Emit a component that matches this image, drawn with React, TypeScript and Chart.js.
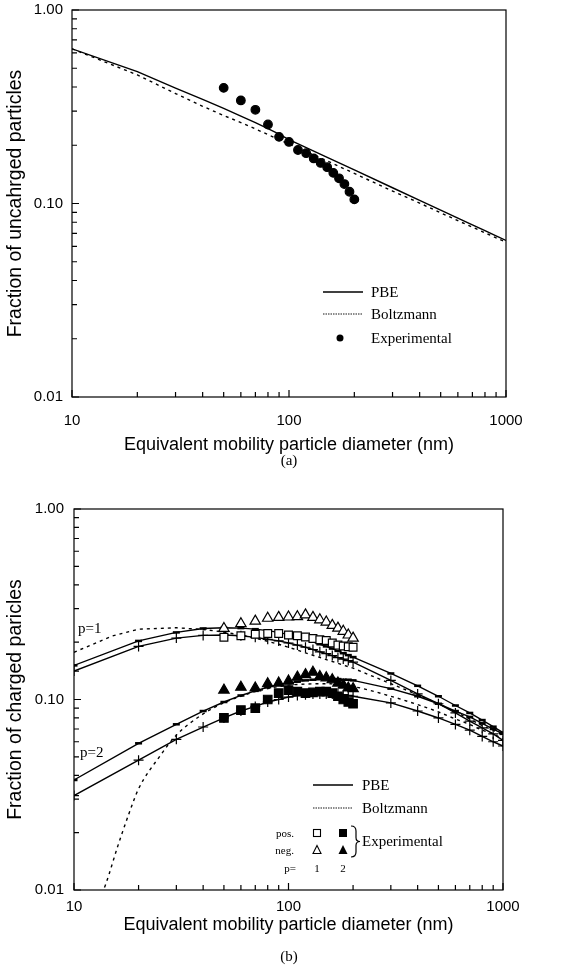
import React, { useEffect, useRef } from 'react';
import { Chart, registerables } from 'chart.js';

Chart.register(...registerables);

const SANS = '"Liberation Sans", Arial, sans-serif';
const SERIF = '"Liberation Serif", "Times New Roman", serif';

// ---------- axes ----------
const xTickValues = [10, 20, 30, 40, 50, 60, 70, 80, 90, 100, 200, 300, 400, 500, 600, 700, 800, 900, 1000];
const xMajor = [10, 100, 1000];
const xMajorLabels = ['10', '100', '1000'];
const yTickValues = [0.01, 0.02, 0.03, 0.04, 0.05, 0.06, 0.07, 0.08, 0.09, 0.1, 0.2, 0.3, 0.4, 0.5, 0.6, 0.7, 0.8, 0.9, 1];
const yMajor = [0.01, 0.1, 1];
const yMajorLabels = ['0.01', '0.10', '1.00'];

// ---------- chart (a): uncharged fraction ----------
const topLineDiam = [10, 20, 30, 40, 50, 60, 70, 80, 90, 100, 150, 200, 300, 400, 500, 600, 700, 800, 900, 1000];
const topPbe = [0.63, 0.48, 0.395, 0.345, 0.31, 0.283, 0.262, 0.244, 0.228, 0.214, 0.173, 0.149, 0.1206, 0.1039, 0.0925, 0.0841, 0.0776, 0.0724, 0.068, 0.0644];
const topBoltzmann = [0.63, 0.462, 0.37, 0.318, 0.285, 0.262, 0.243, 0.227, 0.214, 0.203, 0.166, 0.143, 0.116, 0.1005, 0.0895, 0.0815, 0.0755, 0.0705, 0.0665, 0.063];
const expDiam = [50, 60, 70, 80, 90, 100, 110, 120, 130, 140, 150, 160, 170, 180, 190, 200];
const topExp = [0.396, 0.341, 0.305, 0.256, 0.221, 0.208, 0.189, 0.182, 0.171, 0.162, 0.154, 0.144, 0.135, 0.126, 0.115, 0.105];

// ---------- chart (b): charged fraction ----------
const pbeDiam = [10, 20, 30, 40, 50, 60, 70, 80, 90, 100, 110, 120, 130, 140, 150, 160, 170, 180, 190, 200, 300, 400, 500, 600, 700, 800, 900, 1000];
const pbeP1Upper = [0.151, 0.203, 0.225, 0.236, 0.238, 0.237, 0.234, 0.230, 0.225, 0.219, 0.213, 0.207, 0.201, 0.195, 0.190, 0.185, 0.180, 0.175, 0.171, 0.167, 0.137, 0.118, 0.104, 0.093, 0.085, 0.078, 0.072, 0.067];
const pbeP1Lower = [0.141, 0.190, 0.210, 0.217, 0.218, 0.216, 0.212, 0.207, 0.203, 0.198, 0.193, 0.188, 0.183, 0.178, 0.174, 0.170, 0.166, 0.163, 0.160, 0.157, 0.126, 0.107, 0.095, 0.085, 0.077, 0.071, 0.066, 0.061];
const pbeP2Upper = [0.0378, 0.0589, 0.0741, 0.087, 0.097, 0.105, 0.111, 0.116, 0.120, 0.122, 0.124, 0.126, 0.127, 0.128, 0.128, 0.128, 0.128, 0.127, 0.127, 0.126, 0.114, 0.104, 0.095, 0.087, 0.081, 0.075, 0.070, 0.066];
const pbeP2Lower = [0.0313, 0.048, 0.0618, 0.0717, 0.080, 0.087, 0.092, 0.097, 0.100, 0.103, 0.105, 0.106, 0.107, 0.107, 0.107, 0.107, 0.107, 0.106, 0.105, 0.104, 0.096, 0.087, 0.080, 0.074, 0.069, 0.064, 0.060, 0.057];

const boltzP1Diam = [10, 15, 20, 30, 40, 50, 60, 70, 80, 90, 100, 150, 200, 300, 400, 500, 600, 700, 800, 900, 1000];
const boltzP1 = [0.177, 0.215, 0.234, 0.238, 0.233, 0.226, 0.218, 0.210, 0.202, 0.195, 0.188, 0.162, 0.146, 0.121, 0.106, 0.095, 0.086, 0.079, 0.073, 0.069, 0.065];
const boltzP2Diam = [12, 13, 14, 16, 18, 20, 25, 30, 40, 50, 60, 70, 80, 90, 100, 150, 200, 300, 400, 500, 600, 700, 800, 900, 1000];
const boltzP2 = [0.007, 0.0088, 0.0106, 0.017, 0.025, 0.034, 0.050, 0.065, 0.084, 0.096, 0.104, 0.110, 0.114, 0.117, 0.119, 0.121, 0.117, 0.104, 0.094, 0.086, 0.079, 0.074, 0.069, 0.066, 0.062];

const expPosP1 = [0.212, 0.216, 0.220, 0.222, 0.222, 0.218, 0.216, 0.213, 0.209, 0.206, 0.204, 0.198, 0.193, 0.191, 0.189, 0.188];
const expNegP1 = [0.236, 0.250, 0.258, 0.267, 0.270, 0.271, 0.272, 0.278, 0.270, 0.262, 0.255, 0.245, 0.237, 0.228, 0.218, 0.210];
const expPosP2 = [0.080, 0.088, 0.090, 0.100, 0.108, 0.112, 0.110, 0.108, 0.109, 0.110, 0.110, 0.108, 0.104, 0.100, 0.097, 0.095];
const expNegP2 = [0.112, 0.116, 0.115, 0.121, 0.122, 0.125, 0.131, 0.135, 0.139, 0.132, 0.130, 0.127, 0.122, 0.119, 0.115, 0.114];

// ---------- helpers ----------
const pts = (xs: number[], ys: number[]) => xs.map((x, i) => ({ x, y: ys[i] }));
const sameLog = (a: number, b: number) => Math.abs(Math.log10(a) - Math.log10(b)) < 1e-6;
const majorLabel = (v: number, majors: number[], labels: string[]) => {
  const i = majors.findIndex((m) => sameLog(m, v));
  return i >= 0 ? labels[i] : '';
};

const frameTicks = {
  id: 'frameTicks',
  afterDatasetsDraw(chart: any) {
    const { ctx, chartArea: a, scales } = chart;
    ctx.save();
    ctx.strokeStyle = '#000';
    ctx.lineWidth = 1.2;
    ctx.strokeRect(a.left, a.top, a.right - a.left, a.bottom - a.top);
    ctx.beginPath();
    scales.x.ticks.forEach((t: any) => {
      const px = scales.x.getPixelForValue(t.value);
      const len = xMajor.some((m) => sameLog(m, t.value)) ? 7 : 5;
      ctx.moveTo(px, a.bottom);
      ctx.lineTo(px, a.bottom - len);
    });
    scales.y.ticks.forEach((t: any) => {
      const py = scales.y.getPixelForValue(t.value);
      const len = yMajor.some((m) => sameLog(m, t.value)) ? 7 : 5;
      ctx.moveTo(a.left, py);
      ctx.lineTo(a.left + len, py);
    });
    ctx.stroke();
    ctx.restore();
  },
};

function makeScales(yTitle: string, yWidth: number, xHeight: number, xPad: number, yPad: number) {
  return {
    x: {
      type: 'logarithmic',
      min: 10,
      max: 1000,
      afterBuildTicks: (s: any) => {
        s.ticks = xTickValues.map((v) => ({ value: v }));
      },
      afterFit: (s: any) => {
        s.height = xHeight;
      },
      grid: { display: false, drawTicks: false },
      border: { display: false },
      ticks: {
        autoSkip: false,
        maxRotation: 0,
        padding: xPad,
        color: '#000',
        font: { family: SANS, size: 15 },
        callback: (v: any) => majorLabel(Number(v), xMajor, xMajorLabels),
      },
      title: {
        display: true,
        text: 'Equivalent mobility particle diameter (nm)',
        color: '#000',
        font: { family: SANS, size: 18 },
        padding: { top: 0, bottom: 4 },
      },
    },
    y: {
      type: 'logarithmic',
      min: 0.01,
      max: 1,
      afterBuildTicks: (s: any) => {
        s.ticks = yTickValues.map((v) => ({ value: v }));
      },
      afterFit: (s: any) => {
        s.width = yWidth;
      },
      grid: { display: false, drawTicks: false },
      border: { display: false },
      ticks: {
        autoSkip: false,
        padding: yPad,
        color: '#000',
        font: { family: SANS, size: 15 },
        callback: (v: any) => majorLabel(Number(v), yMajor, yMajorLabels),
      },
      title: {
        display: true,
        text: yTitle,
        color: '#000',
        font: { family: SANS, size: 19.5 },
        padding: { top: 4, bottom: 0 },
      },
    },
  };
}

const baseOptions = (scales: any, padding: any) => ({
  responsive: false,
  maintainAspectRatio: false,
  animation: false,
  events: [],
  layout: { padding },
  plugins: { legend: { display: false }, tooltip: { enabled: false }, title: { display: false } },
  scales,
});

const lineDs = (label: string, data: any[], dash: number[] = [], extra: any = {}) => ({
  label,
  data,
  showLine: true,
  borderColor: '#000',
  backgroundColor: '#000',
  borderWidth: 1.4,
  borderDash: dash,
  pointRadius: 0,
  fill: false,
  tension: 0,
  ...extra,
});

const markerDs = (label: string, data: any[], style: string, filled: boolean, radius: number) => ({
  label,
  data,
  showLine: false,
  pointStyle: style,
  pointRadius: radius,
  pointBorderColor: '#000',
  pointBackgroundColor: filled ? '#000' : '#fff',
  pointBorderWidth: 1.2,
});

export default function App() {
  const topRef = useRef<HTMLCanvasElement | null>(null);
  const botRef = useRef<HTMLCanvasElement | null>(null);

  useEffect(() => {
    const top = new Chart(topRef.current as HTMLCanvasElement, {
      type: 'scatter',
      data: {
        datasets: [
          markerDs('Experimental', pts(expDiam, topExp), 'circle', true, 4.3),
          lineDs('PBE', pts(topLineDiam, topPbe)),
          lineDs('Boltzmann', pts(topLineDiam, topBoltzmann), [3, 4]),
        ],
      },
      options: baseOptions(makeScales('Fraction of uncahrged particles', 72, 63, 15, 9), {
        left: 0,
        right: 70,
        top: 9,
        bottom: 10,
      }) as any,
      plugins: [frameTicks],
    });

    const pbeUpperPts = { pointStyle: 'line', pointRadius: 3.5, pointBorderWidth: 2.5, pointBorderColor: '#000' };
    const pbeLowerPts = { pointStyle: 'cross', pointRadius: 5, pointBorderWidth: 1.2, pointBorderColor: '#000' };

    const bottom = new Chart(botRef.current as HTMLCanvasElement, {
      type: 'scatter',
      data: {
        datasets: [
          markerDs('pos. p=2', pts(expDiam, expPosP2), 'rect', true, 6),
          markerDs('neg. p=2', pts(expDiam, expNegP2), 'triangle', true, 6),
          markerDs('pos. p=1', pts(expDiam, expPosP1), 'rect', false, 5.5),
          markerDs('neg. p=1', pts(expDiam, expNegP1), 'triangle', false, 6),
          lineDs('PBE p=1 a', pts(pbeDiam, pbeP1Upper), [], pbeUpperPts),
          lineDs('PBE p=1 b', pts(pbeDiam, pbeP1Lower), [], pbeLowerPts),
          lineDs('PBE p=2 a', pts(pbeDiam, pbeP2Upper), [], pbeUpperPts),
          lineDs('PBE p=2 b', pts(pbeDiam, pbeP2Lower), [], pbeLowerPts),
          lineDs('Boltzmann p=1', pts(boltzP1Diam, boltzP1), [3, 4]),
          lineDs('Boltzmann p=2', pts(boltzP2Diam, boltzP2), [3, 4], { cubicInterpolationMode: 'monotone' }),
        ],
      },
      options: baseOptions(makeScales('Fraction of charged paricles', 74, 50, 8, 10), {
        left: 0,
        right: 73,
        top: 16,
        bottom: 34,
      }) as any,
      plugins: [frameTicks],
    });

    return () => {
      top.destroy();
      bottom.destroy();
    };
  }, []);

  const txt = (x: number, y: number, s: string, size = 15, anchor = 'start') => (
    <text x={x} y={y} fontFamily={SERIF} fontSize={size} textAnchor={anchor} dominantBaseline="central" fill="#000">
      {s}
    </text>
  );

  return (
    <div style={{ position: 'absolute', left: 0, top: 0, width: 576, height: 974, background: '#fff', overflow: 'hidden' }}>
      <canvas ref={topRef} width={576} height={478} style={{ position: 'absolute', left: 0, top: -8 }} />
      <canvas ref={botRef} width={576} height={484} style={{ position: 'absolute', left: 0, top: 490 }} />
      <svg width={576} height={974} style={{ position: 'absolute', left: 0, top: 0, pointerEvents: 'none' }}>
        {/* legend (a) */}
        <line x1={323} y1={292} x2={363} y2={292} stroke="#000" strokeWidth={1.3} />
        {txt(371, 292, 'PBE')}
        <line x1={323} y1={314} x2={363} y2={314} stroke="#666" strokeWidth={1.3} strokeDasharray="1.5 1" />
        {txt(371, 314, 'Boltzmann')}
        <circle cx={340} cy={338} r={3.5} fill="#000" />
        {txt(371, 338, 'Experimental')}
        {txt(289, 460, '(a)', 15, 'middle')}

        {/* chart (b) annotations */}
        {txt(78, 628, 'p=1')}
        {txt(80, 752, 'p=2')}

        {/* legend (b) */}
        <line x1={313} y1={785} x2={353} y2={785} stroke="#000" strokeWidth={1.3} />
        {txt(362, 785, 'PBE')}
        <line x1={313} y1={808} x2={353} y2={808} stroke="#666" strokeWidth={1.3} strokeDasharray="1.5 1" />
        {txt(362, 808, 'Boltzmann')}
        {txt(294, 833, 'pos.', 11, 'end')}
        <rect x={313.5} y={829.5} width={7} height={7} fill="#fff" stroke="#000" strokeWidth={1.1} />
        <rect x={339} y={829} width={8} height={8} fill="#000" />
        {txt(294, 850, 'neg.', 11, 'end')}
        <polygon points="317,845.5 321,853.5 313,853.5" fill="#fff" stroke="#000" strokeWidth={1.1} />
        <polygon points="343,845 347.5,854 338.5,854" fill="#000" />
        {txt(296, 868, 'p=', 11, 'end')}
        {txt(317, 868, '1', 11, 'middle')}
        {txt(343, 868, '2', 11, 'middle')}
        <path
          d="M351,826 Q356,826 356,831 L356,837.5 Q356,841.5 360,841.5 Q356,841.5 356,845.5 L356,852 Q356,857 351,857"
          fill="none"
          stroke="#000"
          strokeWidth={1.2}
        />
        {txt(362, 841, 'Experimental')}
        {txt(289, 956, '(b)', 15, 'middle')}
      </svg>
    </div>
  );
}
